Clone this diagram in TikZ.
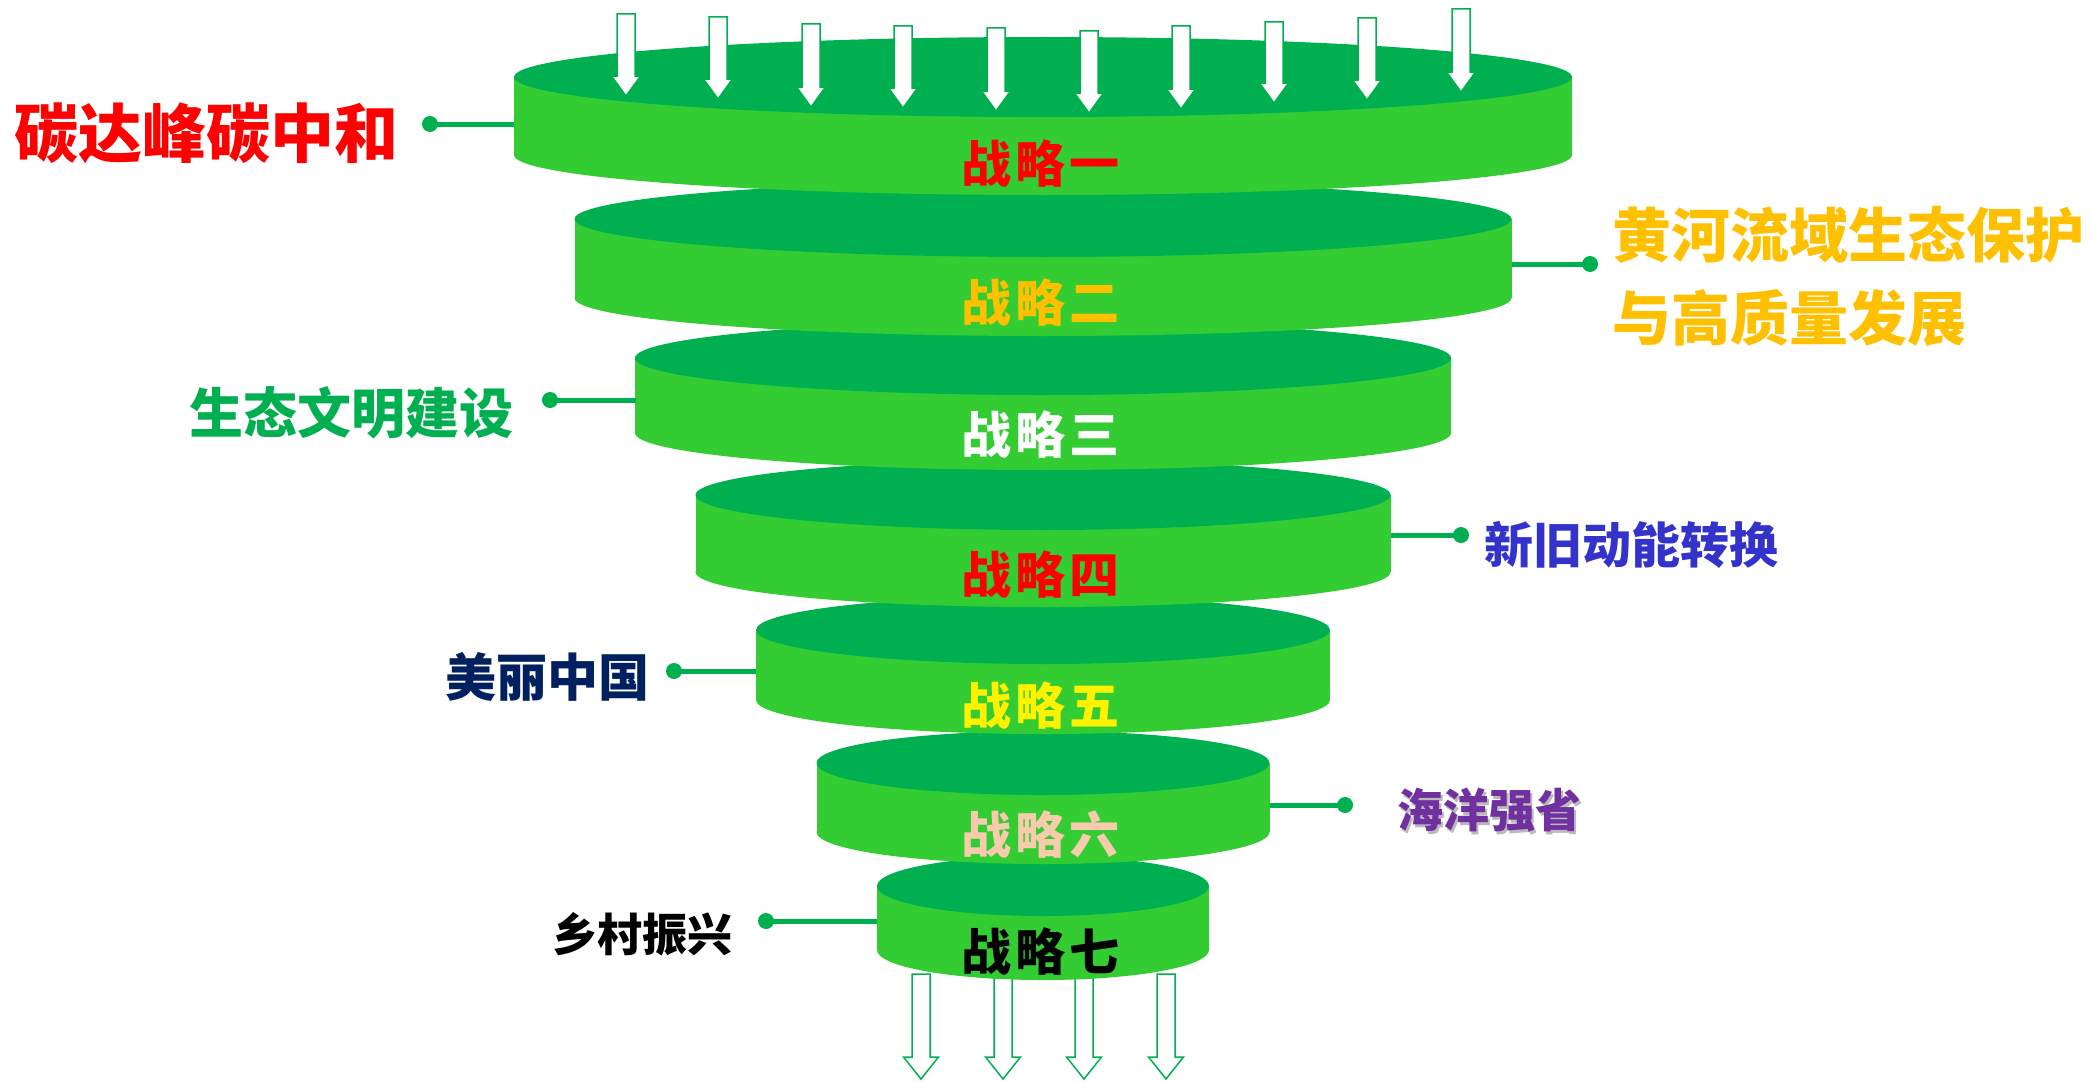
\documentclass[tikz,border=0pt]{standalone}
\usepackage{fontspec}
\newfontfamily\cjk{Noto Sans CJK SC}
\definecolor{topg}{HTML}{00B050}
\definecolor{sideg}{HTML}{33CC33}
\definecolor{gold}{HTML}{FFC000}
\definecolor{peach}{HTML}{F8CBAD}
\definecolor{blueviolet}{HTML}{3333CC}
\definecolor{navy}{HTML}{002060}
\definecolor{purp}{HTML}{7030A0}
\newcommand\drawcyl[4]{%
  \fill[sideg] ({1043-#1},#2) rectangle ({1043+#1},{#2+#4});
  \fill[sideg] (1043,{#2+#4}) ellipse [x radius=#1, y radius=#3];
  \fill[topg] (1043,#2) ellipse [x radius=#1, y radius=#3];
}
\begin{document}
\begin{tikzpicture}[x=1pt,y=-1pt,
  conn/.style={draw=topg, line width=5pt},
  dot/.style={circle, fill=topg, minimum size=16pt, inner sep=0pt},
  lbl/.style={inner sep=0pt, font=\cjk\bfseries},
  stg/.style={inner sep=0pt, anchor=base, font=\cjk\bfseries\fontsize{50}{55}\selectfont},
  arr/.style={fill=white, draw=topg, line width=1.5pt, line join=miter}]
\fill[white] (0,0) rectangle (2092,1081);
\useasboundingbox (0,0) rectangle (2092,1081);

% bottom arrows (behind the last cylinder)
\foreach \x in {921,1003,1084,1166}{
  \draw[arr] ({\x-9},974) -- ({\x+9},974) -- ({\x+9},1057) -- ({\x+17.5},1057)
     -- (\x,1079) -- ({\x-17.5},1057) -- ({\x-9},1057) -- cycle;
}

% cylinders, from bottom to top
\drawcyl{166}{886}{30}{64}
\node[stg] (s7) at (1040,970) {战\hspace{4pt}略\hspace{4pt}七};
\drawcyl{226.5}{763}{32}{69}
\node[stg, text=peach] (s6) at (1040,853) {战\hspace{4pt}略\hspace{4pt}六};
\drawcyl{287}{630}{34}{70}
\node[stg, text=yellow] (s5) at (1040,724) {战\hspace{4pt}略\hspace{4pt}五};
\drawcyl{347.5}{495}{35}{77}
\node[stg, text=red] (s4) at (1040,593) {战\hspace{4pt}略\hspace{4pt}四};
\drawcyl{408}{358}{37}{75}
\node[stg, text=white] (s3) at (1040,453) {战\hspace{4pt}略\hspace{4pt}三};
\drawcyl{468.5}{219}{38}{79}
\node[stg, text=gold] (s2) at (1040,321) {战\hspace{4pt}略\hspace{4pt}二};
\drawcyl{529}{77}{40}{78}
\node[stg, text=red] (s1) at (1040,182) {战\hspace{4pt}略\hspace{4pt}一};

% top arrows
\foreach \x/\t/\b in {626/14/96, 718/17/99, 811/24/107, 903/26/108, 996/28/111,
                      1089/31/113, 1181/26/109, 1274/22/103, 1367/18/100, 1461/9/92}{
  \draw[arr] ({\x-9},\t) -- ({\x+9},\t) -- ({\x+9},{\b-20}) -- ({\x+14.5},{\b-20})
     -- (\x,\b) -- ({\x-14.5},{\b-20}) -- ({\x-9},{\b-20}) -- cycle;
}

% connector anchor points on the cylinders
\coordinate (e1) at (514,124);
\coordinate (e2) at (1512,264);
\coordinate (e3) at (636,400);
\coordinate (e4) at (1391,535);
\coordinate (e5) at (756,671);
\coordinate (e6) at (1270,805);
\coordinate (e7) at (877,921);

% dots
\node[dot] (d1) at (430,124) {};
\node[dot] (d2) at (1590,264) {};
\node[dot] (d3) at (550,400) {};
\node[dot] (d4) at (1461,535) {};
\node[dot] (d5) at (674,671) {};
\node[dot] (d6) at (1345,805) {};
\node[dot] (d7) at (766,921) {};

\draw[conn] (d1.center) -- (e1);
\draw[conn] (d2.center) -- (e2);
\draw[conn] (d3.center) -- (e3);
\draw[conn] (d4.center) -- (e4);
\draw[conn] (d5.center) -- (e5);
\draw[conn] (d6.center) -- (e6);
\draw[conn] (d7.center) -- (e7);

% labels
\node[lbl, anchor=base west, text=red, font=\cjk\bfseries\fontsize{64}{70}\selectfont] (t1) at (14,157) {碳达峰碳中和};
\node[lbl, anchor=base west, text=gold, font=\cjk\bfseries\fontsize{59}{65}\selectfont] (t2a) at (1612,257) {黄河流域生态保护};
\node[lbl, anchor=base west, text=gold, font=\cjk\bfseries\fontsize{59}{65}\selectfont] (t2b) at (1612,340) {与高质量发展};
\node[lbl, anchor=base west, text=topg, font=\cjk\bfseries\fontsize{54}{60}\selectfont] (t3) at (189,433) {生态文明建设};
\node[lbl, anchor=base west, text=blueviolet, font=\cjk\bfseries\fontsize{49}{55}\selectfont] (t4) at (1484,563) {新旧动能转换};
\node[lbl, anchor=base west, text=navy, font=\cjk\bfseries\fontsize{51}{56}\selectfont] (t5) at (445,696) {美丽中国};
\node[lbl, anchor=base west, text=black!45, opacity=0.6, font=\cjk\bfseries\fontsize{46}{50}\selectfont] (t6s) at (1399,830) {海洋强省};
\node[lbl, anchor=base west, text=purp, font=\cjk\bfseries\fontsize{46}{50}\selectfont] (t6) at (1397,827) {海洋强省};
\node[lbl, anchor=base west, text=black, font=\cjk\bfseries\fontsize{45}{50}\selectfont] (t7) at (552,951) {乡村振兴};
\end{tikzpicture}
\end{document}
